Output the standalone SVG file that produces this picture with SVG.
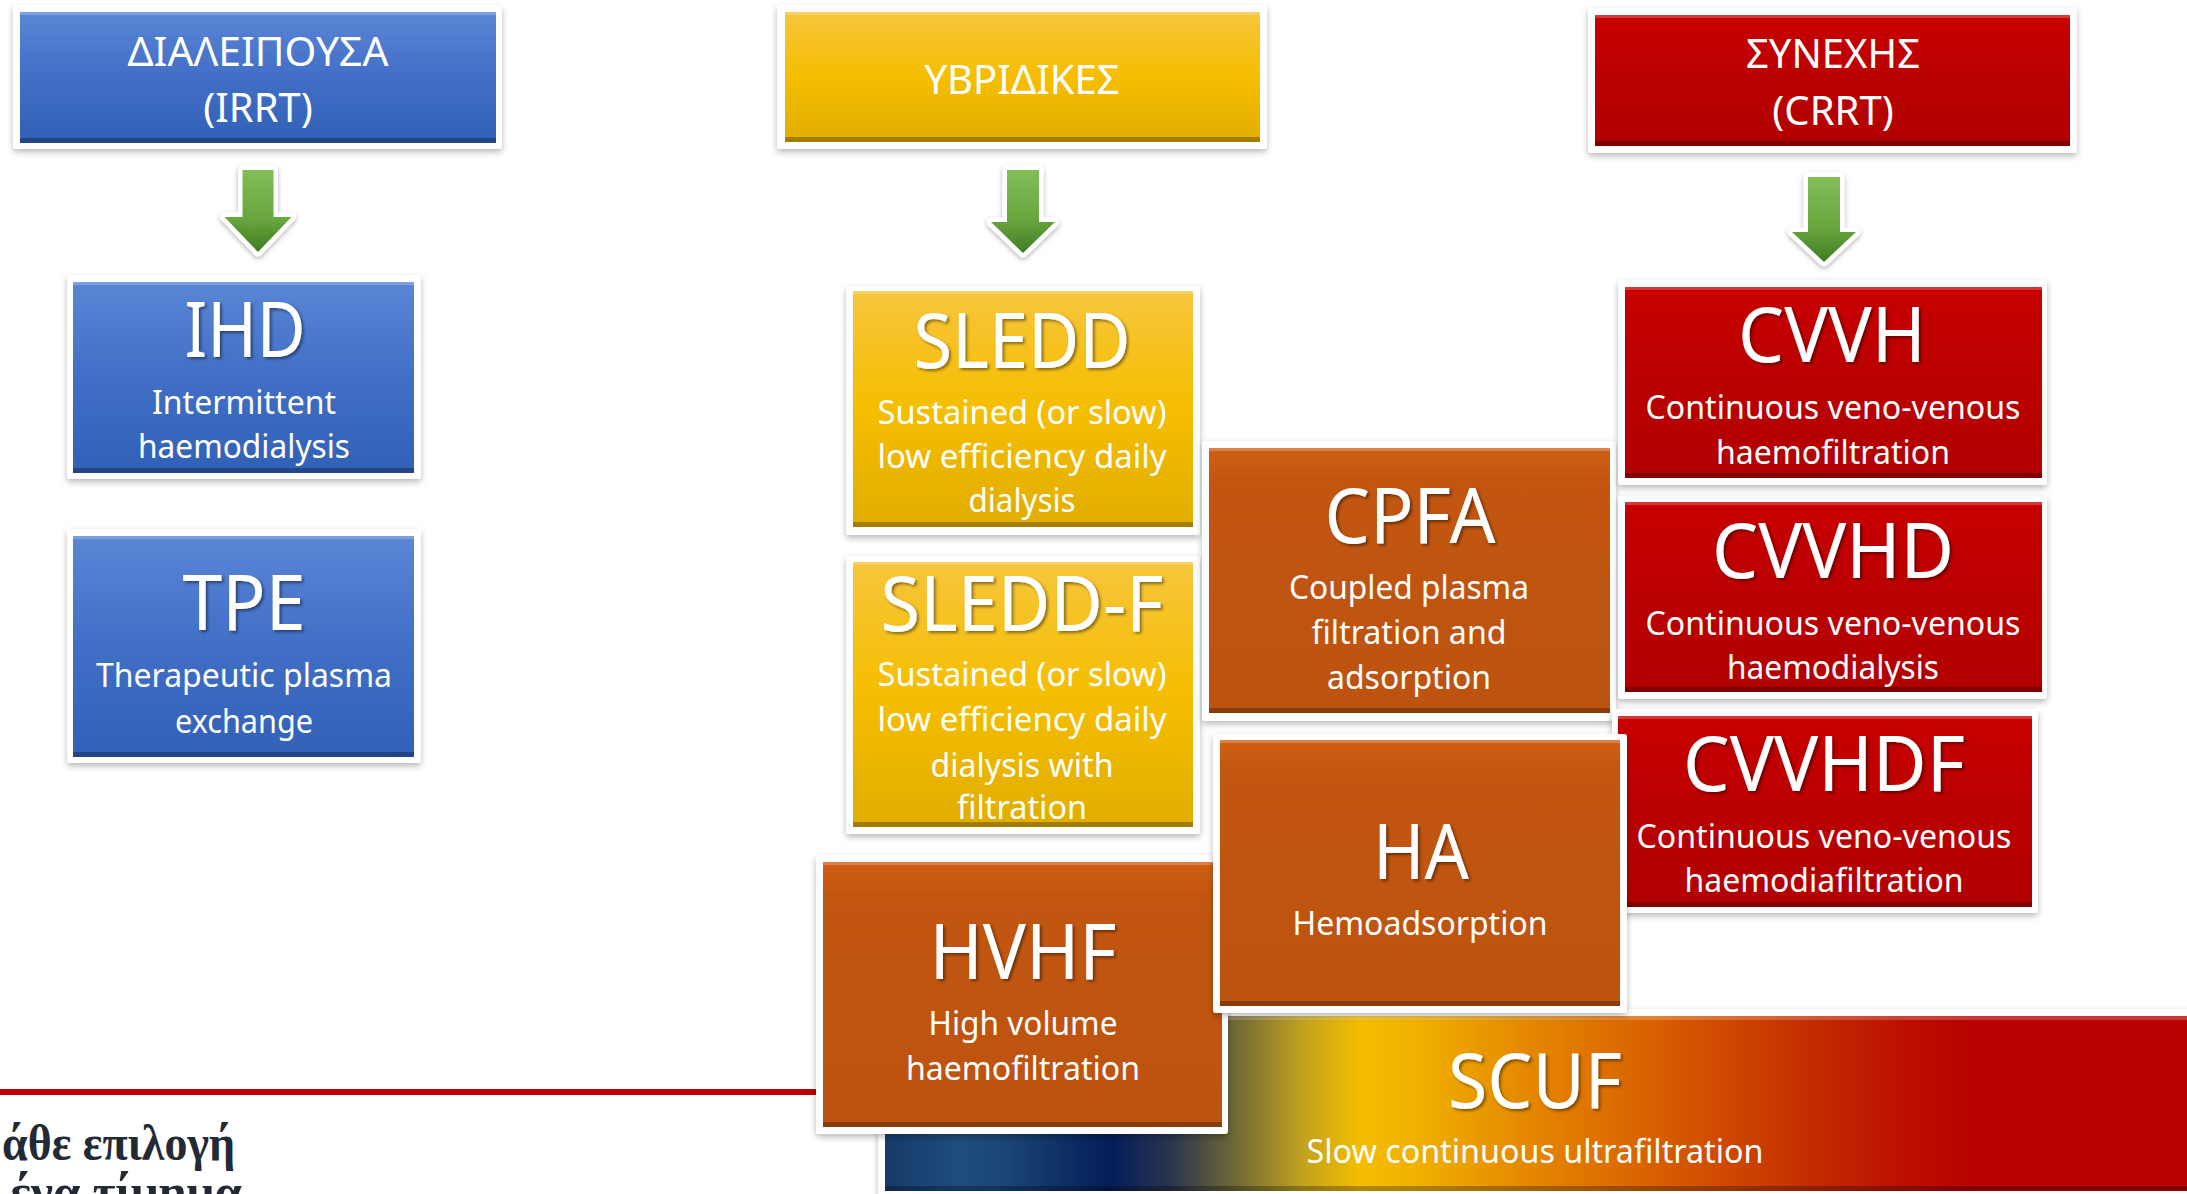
<svg xmlns="http://www.w3.org/2000/svg" width="2187" height="1194" viewBox="0 0 2187 1194">
<defs>
<style>
.frame{fill:#fff;filter:url(#sh)}
.hi{fill:#fff;opacity:.22}
.lo{fill:#000;opacity:.28}
.t{font-family:"Noto Sans","Open Sans",sans-serif;fill:#fff;text-anchor:middle;font-size:76px;filter:url(#tsh)}
.s{font-family:"Noto Sans","Open Sans",sans-serif;fill:#fff;text-anchor:middle;font-size:32px}
.h{font-family:"Noto Sans","Open Sans",sans-serif;fill:#fff;text-anchor:middle;font-size:40px}
.arrow{fill:url(#gGreen);stroke:#fff;stroke-width:9;stroke-linejoin:round;paint-order:stroke;filter:url(#ash)}
.note{font-family:"Liberation Serif","DejaVu Serif",serif;font-weight:bold;font-size:50px;fill:#222a36}
</style>
<filter id="sh" x="-10%" y="-10%" width="120%" height="130%">
<feDropShadow dx="0" dy="3" stdDeviation="3" flood-color="#000" flood-opacity="0.28"/>
</filter>
<filter id="ash" x="-30%" y="-20%" width="160%" height="150%">
<feDropShadow dx="0" dy="2" stdDeviation="2.5" flood-color="#000" flood-opacity="0.3"/>
</filter>
<filter id="tsh" x="-10%" y="-10%" width="120%" height="130%">
<feDropShadow dx="2" dy="2" stdDeviation="1.5" flood-color="#000" flood-opacity="0.45"/>
</filter>
<linearGradient id="gBlue" x1="0" y1="0" x2="0" y2="1">
<stop offset="0" stop-color="#5a86d6"/><stop offset="0.5" stop-color="#416fc6"/><stop offset="1" stop-color="#3160b7"/>
</linearGradient>
<linearGradient id="gYellow" x1="0" y1="0" x2="0" y2="1">
<stop offset="0" stop-color="#f7c53c"/><stop offset="0.5" stop-color="#f5be00"/><stop offset="1" stop-color="#e1ad00"/>
</linearGradient>
<linearGradient id="gRed" x1="0" y1="0" x2="0" y2="1">
<stop offset="0" stop-color="#c80000"/><stop offset="0.5" stop-color="#ba0000"/><stop offset="1" stop-color="#b20000"/>
</linearGradient>
<linearGradient id="gOrange" x1="0" y1="0" x2="0" y2="1">
<stop offset="0" stop-color="#d05f13"/><stop offset="0.12" stop-color="#c25611"/><stop offset="1" stop-color="#bd5310"/>
</linearGradient>
<linearGradient id="gGreen" x1="0" y1="0" x2="0" y2="1">
<stop offset="0" stop-color="#82bd58"/><stop offset="0.6" stop-color="#68a63e"/><stop offset="1" stop-color="#3f7c22"/>
</linearGradient>
<linearGradient id="gScuf" gradientUnits="userSpaceOnUse" x1="885" y1="0" x2="2187" y2="0">
<stop offset="0" stop-color="#163a6a"/>
<stop offset="0.058" stop-color="#1f4d7c"/>
<stop offset="0.09" stop-color="#1b4676"/>
<stop offset="0.173" stop-color="#041e58"/>
<stop offset="0.219" stop-color="#2a3450"/>
<stop offset="0.265" stop-color="#6a6438"/>
<stop offset="0.319" stop-color="#c0a020"/>
<stop offset="0.365" stop-color="#f5bd00"/>
<stop offset="0.41" stop-color="#f0b000"/>
<stop offset="0.488" stop-color="#e58a00"/>
<stop offset="0.565" stop-color="#dc6a00"/>
<stop offset="0.641" stop-color="#d04a00"/>
<stop offset="0.703" stop-color="#c43000"/>
<stop offset="0.78" stop-color="#bc1000"/>
<stop offset="0.84" stop-color="#b80000"/>
<stop offset="1" stop-color="#b80000"/>
</linearGradient>
</defs>
<rect width="2187" height="1194" fill="#fff"/>

<g id="note">
<rect x="0" y="1089" width="830" height="6" fill="#c00000"/>
<text class="note" x="2" y="1160" textLength="233" lengthAdjust="spacingAndGlyphs">άθε επιλογή</text>
<text class="note" x="10" y="1209" textLength="232" lengthAdjust="spacingAndGlyphs">ένα τίμημα</text>
</g>

<g id="SCUF">
<rect class="frame" x="878" y="1009" width="1320" height="195"/>
<rect x="885" y="1016" width="1302" height="175" fill="url(#gScuf)"/>
<rect class="hi" x="885" y="1016" width="1302" height="4"/>
<rect class="lo" x="885" y="1186" width="1302" height="5"/>
<text class="t" x="1535" y="1108" textLength="174" lengthAdjust="spacingAndGlyphs">SCUF</text>
<text class="s" x="1535" y="1163" textLength="457" lengthAdjust="spacingAndGlyphs">Slow continuous ultrafiltration</text>
</g>

<g id="IRRT">
<rect class="frame" x="13" y="5" width="489" height="144" rx="3"/>
<rect x="20" y="12" width="476" height="131" fill="url(#gBlue)"/>
<rect class="hi" x="20" y="12" width="476" height="3"/>
<rect class="lo" x="20" y="138" width="476" height="5"/>
<text class="h" x="258" y="66" textLength="261" lengthAdjust="spacingAndGlyphs">ΔΙΑΛΕΙΠΟΥΣΑ</text>
<text class="h" x="258" y="122">(IRRT)</text>
</g>

<g id="HYBRID">
<rect class="frame" x="777" y="5" width="490" height="144" rx="3"/>
<rect x="785" y="12" width="475" height="130" fill="url(#gYellow)"/>
<rect class="hi" x="785" y="12" width="475" height="3"/>
<rect class="lo" x="785" y="137" width="475" height="5"/>
<text class="h" x="1022" y="94" textLength="195" lengthAdjust="spacingAndGlyphs">ΥΒΡΙΔΙΚΕΣ</text>
</g>

<g id="CRRT">
<rect class="frame" x="1588" y="8" width="489" height="145" rx="3"/>
<rect x="1595" y="15" width="475" height="131" fill="url(#gRed)"/>
<rect class="hi" x="1595" y="15" width="475" height="3"/>
<rect class="lo" x="1595" y="141" width="475" height="5"/>
<text class="h" x="1833" y="68" textLength="174" lengthAdjust="spacingAndGlyphs">ΣΥΝΕΧΗΣ</text>
<text class="h" x="1833" y="125">(CRRT)</text>
</g>

<g id="connectors">
<path class="arrow" d="M242.5,170 H273.5 V217 H291.5 L258,252 L224.5,217 H242.5 Z"/>
<path class="arrow" d="M1007,170 H1039 V222 H1055 L1023,253 L991,222 H1007 Z"/>
<path class="arrow" d="M1808,177 H1840 V232 H1856 L1824,262 L1792,232 H1808 Z"/>
</g>

<g id="IHD">
<rect class="frame" x="67" y="275" width="354" height="204" rx="3"/>
<rect x="73" y="282" width="341" height="191" fill="url(#gBlue)"/>
<rect class="hi" x="73" y="282" width="341" height="3"/>
<rect class="lo" x="73" y="468" width="341" height="5"/>
<text class="t" x="245" y="357" textLength="121" lengthAdjust="spacingAndGlyphs">IHD</text>
<text class="s" x="244" y="414" textLength="184" lengthAdjust="spacingAndGlyphs">Intermittent</text>
<text class="s" x="244" y="458" textLength="212" lengthAdjust="spacingAndGlyphs">haemodialysis</text>
</g>

<g id="TPE">
<rect class="frame" x="67" y="529" width="354" height="234" rx="3"/>
<rect x="73" y="536" width="341" height="221" fill="url(#gBlue)"/>
<rect class="hi" x="73" y="536" width="341" height="3"/>
<rect class="lo" x="73" y="752" width="341" height="5"/>
<text class="t" x="244" y="630" textLength="123" lengthAdjust="spacingAndGlyphs">TPE</text>
<text class="s" x="244" y="687" textLength="296" lengthAdjust="spacingAndGlyphs">Therapeutic plasma</text>
<text class="s" x="244" y="733" textLength="138" lengthAdjust="spacingAndGlyphs">exchange</text>
</g>

<g id="SLEDD">
<rect class="frame" x="846" y="286" width="354" height="249" rx="3"/>
<rect x="853" y="291" width="340" height="236" fill="url(#gYellow)"/>
<rect class="hi" x="853" y="291" width="340" height="3"/>
<rect class="lo" x="853" y="522" width="340" height="5"/>
<text class="t" x="1022" y="368" textLength="217" lengthAdjust="spacingAndGlyphs">SLEDD</text>
<text class="s" x="1022" y="424" textLength="289" lengthAdjust="spacingAndGlyphs">Sustained (or slow)</text>
<text class="s" x="1022" y="468" textLength="289" lengthAdjust="spacingAndGlyphs">low efficiency daily</text>
<text class="s" x="1022" y="512" textLength="107" lengthAdjust="spacingAndGlyphs">dialysis</text>
</g>

<g id="SLEDD-F">
<rect class="frame" x="846" y="556" width="354" height="278" rx="3"/>
<rect x="853" y="562" width="340" height="265" fill="url(#gYellow)"/>
<rect class="hi" x="853" y="562" width="340" height="3"/>
<rect class="lo" x="853" y="822" width="340" height="5"/>
<text class="t" x="1022" y="631" textLength="283" lengthAdjust="spacingAndGlyphs">SLEDD-F</text>
<text class="s" x="1022" y="686" textLength="289" lengthAdjust="spacingAndGlyphs">Sustained (or slow)</text>
<text class="s" x="1022" y="731" textLength="289" lengthAdjust="spacingAndGlyphs">low efficiency daily</text>
<text class="s" x="1022" y="777" textLength="183" lengthAdjust="spacingAndGlyphs">dialysis with</text>
<text class="s" x="1022" y="819" textLength="130" lengthAdjust="spacingAndGlyphs">filtration</text>
</g>

<g id="CPFA">
<rect class="frame" x="1202" y="441" width="414" height="280" rx="3"/>
<rect x="1209" y="448" width="401" height="265" fill="url(#gOrange)"/>
<rect class="hi" x="1209" y="448" width="401" height="3"/>
<rect class="lo" x="1209" y="708" width="401" height="5"/>
<text class="t" x="1410" y="543" textLength="171" lengthAdjust="spacingAndGlyphs">CPFA</text>
<text class="s" x="1409" y="599" textLength="240" lengthAdjust="spacingAndGlyphs">Coupled plasma</text>
<text class="s" x="1409" y="644" textLength="195" lengthAdjust="spacingAndGlyphs">filtration and</text>
<text class="s" x="1409" y="689" textLength="164" lengthAdjust="spacingAndGlyphs">adsorption</text>
</g>

<g id="CVVH">
<rect class="frame" x="1618" y="280" width="429" height="205" rx="3"/>
<rect x="1625" y="287" width="417" height="191" fill="url(#gRed)"/>
<rect class="hi" x="1625" y="287" width="417" height="3"/>
<rect class="lo" x="1625" y="473" width="417" height="5"/>
<text class="t" x="1832" y="362" textLength="188" lengthAdjust="spacingAndGlyphs">CVVH</text>
<text class="s" x="1833" y="419" textLength="375" lengthAdjust="spacingAndGlyphs">Continuous veno-venous</text>
<text class="s" x="1833" y="464" textLength="234" lengthAdjust="spacingAndGlyphs">haemofiltration</text>
</g>

<g id="CVVHD">
<rect class="frame" x="1618" y="496" width="429" height="203" rx="3"/>
<rect x="1625" y="502" width="417" height="190" fill="url(#gRed)"/>
<rect class="hi" x="1625" y="502" width="417" height="3"/>
<rect class="lo" x="1625" y="687" width="417" height="5"/>
<text class="t" x="1833" y="578" textLength="242" lengthAdjust="spacingAndGlyphs">CVVHD</text>
<text class="s" x="1833" y="635" textLength="375" lengthAdjust="spacingAndGlyphs">Continuous veno-venous</text>
<text class="s" x="1833" y="679" textLength="212" lengthAdjust="spacingAndGlyphs">haemodialysis</text>
</g>

<g id="CVVHDF">
<rect class="frame" x="1612" y="709" width="426" height="204" rx="3"/>
<rect x="1618" y="716" width="414" height="191" fill="url(#gRed)"/>
<rect class="hi" x="1618" y="716" width="414" height="3"/>
<rect class="lo" x="1618" y="902" width="414" height="5"/>
<text class="t" x="1824" y="791" textLength="282" lengthAdjust="spacingAndGlyphs">CVVHDF</text>
<text class="s" x="1824" y="848" textLength="375" lengthAdjust="spacingAndGlyphs">Continuous veno-venous</text>
<text class="s" x="1824" y="892" textLength="279" lengthAdjust="spacingAndGlyphs">haemodiafiltration</text>
</g>

<g id="HVHF">
<rect class="frame" x="816" y="855" width="412" height="279" rx="3"/>
<rect x="823" y="862" width="399" height="265" fill="url(#gOrange)"/>
<rect class="hi" x="823" y="862" width="399" height="3"/>
<rect class="lo" x="823" y="1122" width="399" height="5"/>
<text class="t" x="1023" y="979" textLength="187" lengthAdjust="spacingAndGlyphs">HVHF</text>
<text class="s" x="1023" y="1035" textLength="189" lengthAdjust="spacingAndGlyphs">High volume</text>
<text class="s" x="1023" y="1080" textLength="234" lengthAdjust="spacingAndGlyphs">haemofiltration</text>
</g>

<g id="HA">
<rect class="frame" x="1213" y="734" width="414" height="279" rx="3"/>
<rect x="1220" y="740" width="400" height="266" fill="url(#gOrange)"/>
<rect class="hi" x="1220" y="740" width="400" height="3"/>
<rect class="lo" x="1220" y="1001" width="400" height="5"/>
<text class="t" x="1421" y="879" textLength="96" lengthAdjust="spacingAndGlyphs">HA</text>
<text class="s" x="1420" y="935" textLength="255" lengthAdjust="spacingAndGlyphs">Hemoadsorption</text>
</g>
</svg>
